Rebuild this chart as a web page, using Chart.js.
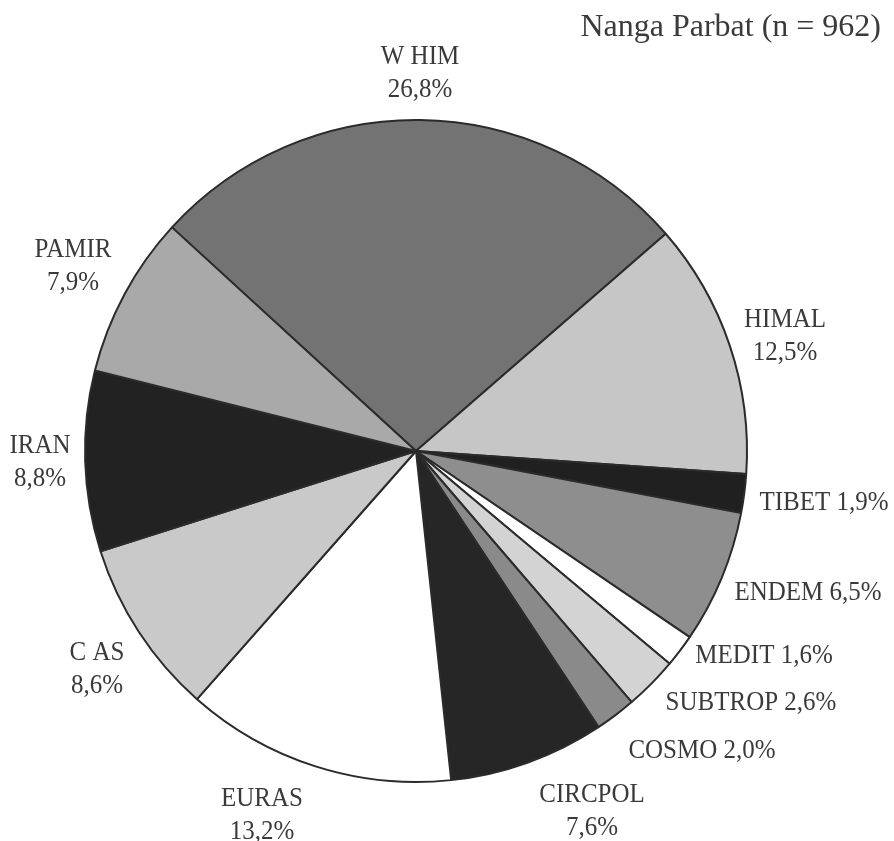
<!DOCTYPE html>
<html>
<head>
<meta charset="utf-8">
<script src="https://cdn.jsdelivr.net/npm/chart.js@4.4.1/dist/chart.umd.min.js"></script>
<style>
  html, body { margin: 0; padding: 0; background: #ffffff; }
  #wrap { width: 894px; height: 841px; }
</style>
</head>
<body>
<div id="wrap"><canvas id="c" width="894" height="841"></canvas></div>
<script>
// ---- data ----
const categories = ["W HIM", "HIMAL", "TIBET", "ENDEM", "MEDIT", "SUBTROP", "COSMO", "CIRCPOL", "EURAS", "C AS", "IRAN", "PAMIR"];
const percentages = [26.8, 12.5, 1.9, 6.5, 1.6, 2.6, 2.0, 7.6, 13.2, 8.6, 8.8, 7.9];
const percentLabels = ["26,8%", "12,5%", "1,9%", "6,5%", "1,6%", "2,6%", "2,0%", "7,6%", "13,2%", "8,6%", "8,8%", "7,9%"];
const sliceColors = ["#737373", "#c6c6c6", "#202020", "#8e8e8e", "#ffffff", "#d3d3d3", "#8a8a8a", "#262626", "#ffffff", "#c9c9c9", "#222222", "#a9a9a9"];
const titleText = "Nanga Parbat (n = 962)";

// ---- label layout (text placement only) ----
// [centerX, baselineY, twoLines]
const labelLayout = [
  [420, 64, true],
  [785, 327, true],
  [824, 510, false],
  [808, 600, false],
  [764, 663, false],
  [751, 710, false],
  [702, 758, false],
  [592, 802, true],
  [262, 806, true],
  [97, 660, true],
  [40, 453, true],
  [73, 257, true]
];

const FONT = '"Liberation Serif", "Times New Roman", serif';
const TEXT_COLOR = '#3a3a3a';

const labelPlugin = {
  id: 'outerLabels',
  afterDraw(chart) {
    const ctx = chart.ctx;
    ctx.save();
    ctx.fillStyle = TEXT_COLOR;
    ctx.textAlign = 'center';
    ctx.textBaseline = 'alphabetic';
    ctx.font = '25px ' + FONT;
    const drawStretched = (txt, x, y) => {
      ctx.save();
      ctx.translate(x, y);
      ctx.scale(1, 1.12);
      ctx.fillText(txt, 0, 0);
      ctx.restore();
    };
    categories.forEach((name, i) => {
      const [x, y, two] = labelLayout[i];
      if (two) {
        drawStretched(name, x, y);
        drawStretched(percentLabels[i], x, y + 33);
      } else {
        drawStretched(name + ' ' + percentLabels[i], x, y);
      }
    });
    // title
    ctx.textAlign = 'right';
    ctx.font = '32px ' + FONT;
    ctx.fillText(titleText, 881, 36);
    ctx.restore();
  }
};

new Chart(document.getElementById('c'), {
  type: 'pie',
  data: {
    labels: categories,
    datasets: [{
      data: percentages,
      backgroundColor: sliceColors,
      borderColor: '#2b2b2b',
      borderWidth: 2,
      borderAlign: 'center'
    }]
  },
  options: {
    responsive: false,
    animation: false,
    rotation: -47.5,
    radius: 331,
    layout: { padding: { left: 0, right: 62, top: 61, bottom: 0 } },
    plugins: {
      legend: { display: false },
      tooltip: { enabled: false },
      title: { display: false }
    }
  },
  plugins: [labelPlugin]
});
</script>
</body>
</html>
